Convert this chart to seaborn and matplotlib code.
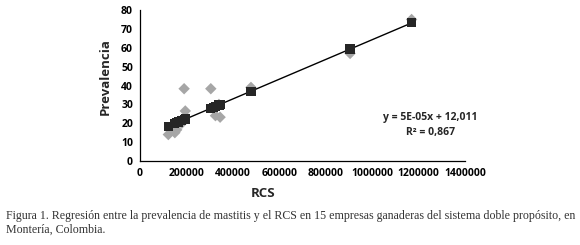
import matplotlib
matplotlib.use("Agg")
import matplotlib.pyplot as plt
import seaborn as sns
import pandas as pd

# values (15 farms)
rcs = [122000, 150000, 158000, 165000, 180000, 190000, 195000, 305000,
       315000, 325000, 340000, 345000, 478000, 905000, 1170000]
prev_obs = [14.0, 15.0, 16.5, 21.0, 20.0, 38.3, 26.5, 38.3,
            28.0, 24.0, 30.0, 23.2, 39.0, 57.0, 75.0]
prev_pred = [18.4, 19.8, 20.2, 20.6, 21.4, 21.9, 22.2, 27.9,
             28.4, 28.9, 29.7, 30.0, 36.9, 59.3, 73.2]

x_ticks = [0, 200000, 400000, 600000, 800000, 1000000, 1200000, 1400000]
y_ticks = [0, 10, 20, 30, 40, 50, 60, 70, 80]

eq_text = "y = 5E-05x + 12,011\nR² = 0,867"
caption = ("Figura 1. Regresión entre la prevalencia de mastitis y el RCS en 15 empresas ganaderas "
           "del sistema doble propósito, en\nMontería, Colombia.")

df = pd.DataFrame({"RCS": rcs, "obs": prev_obs, "pred": prev_pred})

sns.set_style("white")
plt.rcParams["font.family"] = ["Open Sans", "DejaVu Sans"]

fig = plt.figure(figsize=(5.8, 2.45), dpi=100)
ax = fig.add_axes([0.2414, 0.343, 0.5603, 0.616])

sns.scatterplot(data=df, x="RCS", y="obs", marker="D", color="#a6a6a6",
                s=34, edgecolor="none", ax=ax, zorder=2)
sns.regplot(data=df, x="RCS", y="pred", scatter=False, ci=None,
            line_kws={"color": "black", "linewidth": 1.0}, ax=ax)
sns.scatterplot(data=df, x="RCS", y="pred", marker="s", color="#262626",
                s=44, edgecolor="none", ax=ax, zorder=3)

ax.set_xlim(0, 1400000)
ax.set_ylim(0, 80)
ax.set_xticks(x_ticks)
ax.set_xticklabels([str(v) for v in x_ticks])
ax.set_yticks(y_ticks)
ax.tick_params(axis="both", direction="out", length=3, width=0.8,
               labelsize=7.5, colors="black", pad=2)
for lab in ax.get_xticklabels() + ax.get_yticklabels():
    lab.set_fontweight("bold")

sns.despine(ax=ax)
for side in ["left", "bottom"]:
    ax.spines[side].set_color("black")
    ax.spines[side].set_linewidth(0.9)

ax.set_xlabel("RCS", fontsize=9.5, fontweight="bold")
ax.set_ylabel("Prevalencia", fontsize=9.5, fontweight="bold")
ax.xaxis.set_label_coords(0.378, -0.175)
ax.yaxis.set_label_coords(-0.086, 0.556)

ax.text(0.893, 0.24, eq_text, transform=ax.transAxes, ha="center", va="center",
        fontsize=7.5, fontweight="bold", linespacing=1.45)

fig.text(0.01, 0.09, caption, ha="left", va="center", fontsize=8.55,
         family=["Liberation Serif", "DejaVu Serif"], color="#333333", linespacing=1.2)

fig.savefig("out.png", dpi=100)
